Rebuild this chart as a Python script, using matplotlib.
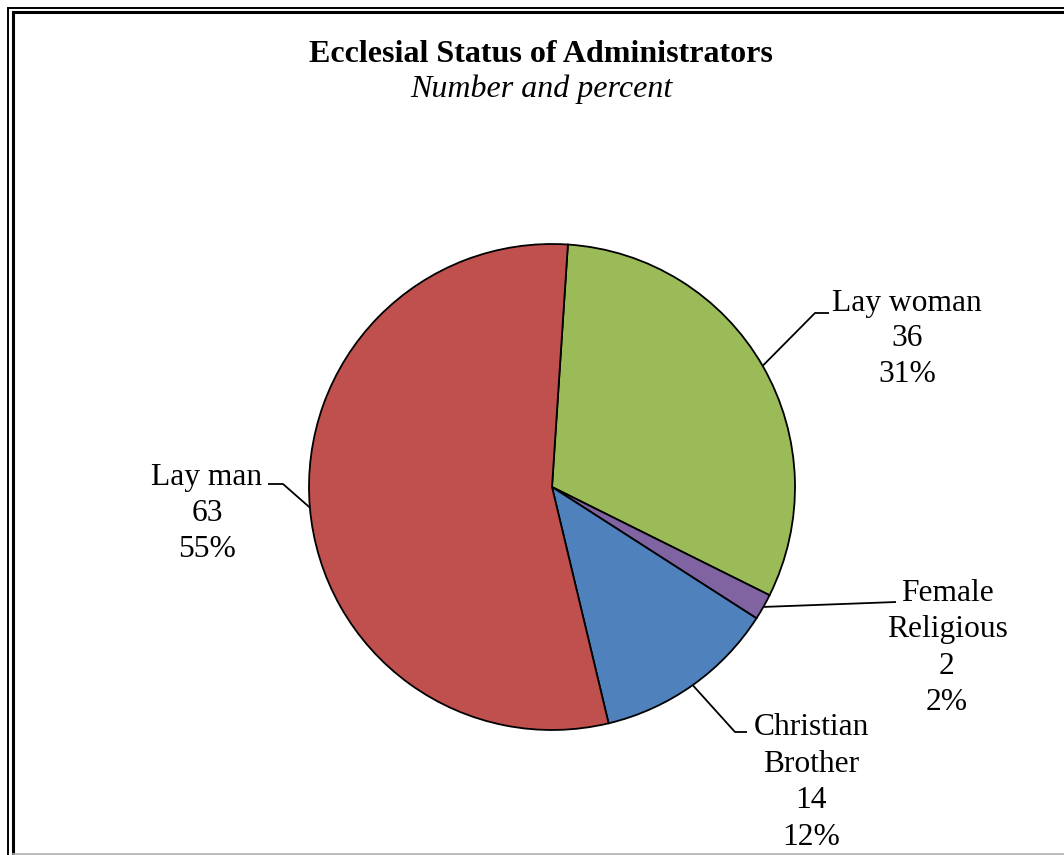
import numpy as np
import matplotlib.pyplot as plt

# datos del grafico
categorias = ['Lay woman', 'Female\nReligious', 'Christian\nBrother', 'Lay man']
cantidades = [36, 2, 14, 63]
colores = ['#9BBB59', '#8064A2', '#4F81BD', '#C0504D']

W, H = 1064, 855
fig = plt.figure(figsize=(W / 100, H / 100), dpi=100)
ax = fig.add_axes([0, 0, 1, 1])

# centro y radio del pastel en pixeles (y hacia arriba)
cx, cy, r = 552, H - 487, 243

wedges, _ = ax.pie(cantidades, colors=colores, startangle=86.25, counterclock=False,
                   center=(cx, cy), radius=r,
                   wedgeprops=dict(edgecolor='black', linewidth=1.3))
ax.set_xlim(0, W)
ax.set_ylim(0, H)
ax.set_aspect('equal')
ax.axis('off')

fuente = 'Liberation Serif'
total = sum(cantidades)

# posiciones de etiquetas: centro x, primera linea base (pix), paso, codo de la linea guia
etiquetas_pos = [
    (907, 311, 35.5, [(815, 313), (829, 313)]),
    (947, 601, 36.5, [(896, 602)]),
    (811, 735, 36.7, [(735, 732), (747, 732)]),
    (207, 485, 36.0, [(283, 484), (268, 484)]),
]

for w, cat, n, (tx, ty, paso, codo) in zip(wedges, categorias, cantidades, etiquetas_pos):
    ang = np.deg2rad((w.theta1 + w.theta2) / 2)
    ax_x = cx + r * np.cos(ang)
    ax_y = cy + r * np.sin(ang)
    xs = [ax_x] + [p[0] for p in codo]
    ys = [ax_y] + [H - p[1] for p in codo]
    ax.plot(xs, ys, color='black', lw=1.3, solid_capstyle='butt')
    lineas = cat.split('\n') + [str(n), f'{round(100 * n / total)}%']
    for i, t in enumerate(lineas):
        ax.text(tx, H - (ty + i * paso), t, ha='center', va='baseline',
                fontsize=22.7, family=fuente, color='black')

# titulo
ax.text(541, H - 62, 'Ecclesial Status of Administrators', ha='center', va='baseline',
        fontsize=23, fontweight='bold', family=fuente)
ax.text(541, H - 97, 'Number and percent', ha='center', va='baseline',
        fontsize=23, style='italic', family=fuente)

# marco doble
ax.plot([8, 8, W], [0, H - 8, H - 8], color='black', lw=1.4, solid_joinstyle='miter')
ax.plot([12.5, 12.5, W], [0, H - 12.5, H - 12.5], color='black', lw=2.2, solid_joinstyle='miter')
ax.plot([13, W], [H - 854, H - 854], color='#b0b0b0', lw=1.2)

fig.savefig('out.png', dpi=100)
